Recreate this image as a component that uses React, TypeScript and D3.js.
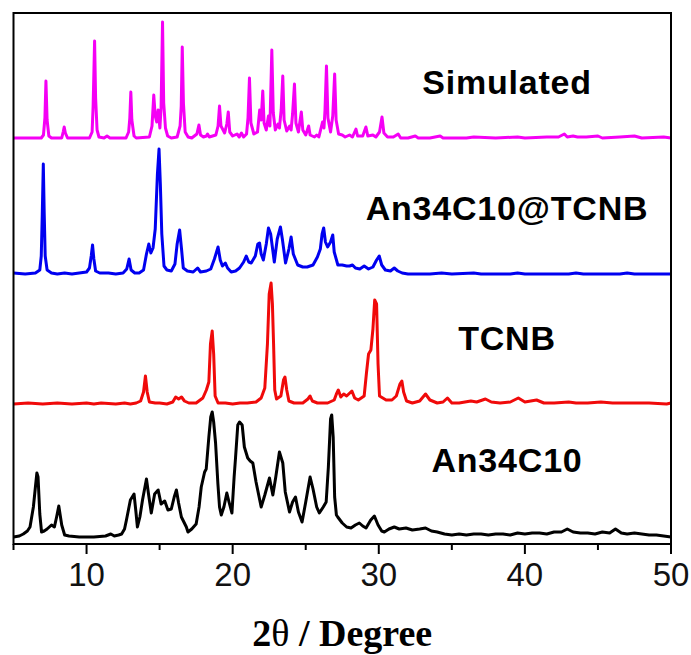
import React from "react";
import * as d3 from "d3";

// Powder XRD patterns, [2θ (deg), intensity above the pattern's own baseline (a.u.)]
const simulated: [number, number][] = [
  [5, 0], [6.9, 0], [7.05, 3], [7.15, 20], [7.22, 57], [7.3, 18], [7.42, 2], [7.6, 0],
  [8.3, 0], [8.4, 6], [8.47, 11], [8.55, 5], [8.7, 0], [10.2, 0], [10.38, 6], [10.45, 32],
  [10.55, 97], [10.62, 40], [10.72, 8], [10.85, 1], [11.2, 0], [11.4, 2], [11.6, 0],
  [12.7, 0], [12.88, 6], [12.96, 20], [13.03, 46], [13.1, 18], [13.25, 2], [13.4, 0],
  [14.3, 1], [14.48, 12], [14.6, 43], [14.7, 22], [14.8, 16], [14.9, 28], [15.02, 10],
  [15.1, 30], [15.2, 116], [15.28, 35], [15.4, 10], [15.55, 2], [15.8, 0], [16.2, 1],
  [16.4, 12], [16.48, 32], [16.55, 91], [16.63, 35], [16.75, 6], [16.95, 1], [17.2, 0],
  [17.55, 4], [17.69, 13], [17.8, 3], [18.0, 1], [18.2, 2], [18.28, 4], [18.4, 1],
  [18.85, 3], [19.0, 12], [19.1, 32], [19.2, 12], [19.45, 5], [19.6, 14], [19.7, 26],
  [19.8, 6], [20.0, 2], [20.3, 4], [20.45, 1], [20.6, 5], [20.75, 1], [20.95, 4],
  [21.05, 20], [21.15, 60], [21.25, 15], [21.45, 4], [21.7, 6], [21.85, 28], [21.95, 18],
  [22.06, 47], [22.15, 15], [22.3, 8], [22.45, 22], [22.55, 12], [22.68, 88], [22.78, 25],
  [22.92, 8], [23.1, 14], [23.2, 10], [23.32, 28], [23.43, 62], [23.52, 18], [23.7, 7],
  [23.9, 12], [24.0, 8], [24.1, 24], [24.23, 54], [24.33, 15], [24.5, 6], [24.7, 26],
  [24.8, 8], [25.0, 3], [25.2, 12], [25.3, 3], [25.6, 1], [25.75, 3], [25.9, 1],
  [26.15, 16], [26.25, 10], [26.32, 28], [26.42, 72], [26.52, 20], [26.7, 6], [26.85, 22],
  [26.98, 64], [27.08, 18], [27.25, 4], [27.5, 3], [27.7, 1], [28.0, 3], [28.2, 1],
  [28.44, 9], [28.55, 2], [28.9, 2], [29.12, 11], [29.25, 2], [29.6, 3], [29.8, 1],
  [30.05, 6], [30.22, 21], [30.35, 5], [30.6, 1], [31.0, 1], [31.33, 4], [31.5, 0],
  [32.0, 0], [32.5, 2], [32.7, 0], [33.5, 0], [34.2, 2], [34.4, 0], [36, 0], [36.5, 1],
  [38, 0], [39.5, 1], [40, 0], [41.5, 1], [42.3, 1], [42.7, 4], [42.9, 1], [43.3, 2],
  [43.6, 1], [44.2, 1], [45, 2], [45.3, 0], [46.5, 1], [47.5, 2], [48, 0], [49.5, 1], [50, 0],
];

const cocrystal: [number, number][] = [
  [5, 1], [5.8, 0], [6.5, 1], [6.8, 4], [6.9, 18], [6.97, 60], [7.04, 110], [7.1, 62],
  [7.17, 18], [7.3, 4], [7.6, 1], [8.0, 0], [8.5, 1], [9.0, 0], [9.5, 1], [10.0, 2],
  [10.2, 6], [10.32, 18], [10.41, 29], [10.5, 15], [10.62, 3], [10.9, 1], [11.5, 1],
  [12.0, 0], [12.5, 1], [12.75, 5], [12.91, 15], [13.05, 4], [13.3, 1], [13.6, 1],
  [13.9, 4], [14.1, 20], [14.26, 30], [14.4, 21], [14.55, 26], [14.7, 45], [14.85, 100],
  [14.96, 125], [15.05, 90], [15.15, 40], [15.3, 8], [15.5, 4], [15.8, 3], [16.05, 10],
  [16.2, 30], [16.37, 44], [16.5, 25], [16.62, 6], [16.9, 3], [17.3, 2], [17.6, 6],
  [17.8, 2], [18.2, 3], [18.5, 5], [18.75, 15], [19.0, 27], [19.15, 14], [19.3, 8],
  [19.5, 11], [19.65, 6], [19.9, 2], [20.2, 3], [20.47, 6], [20.75, 12], [20.93, 18],
  [21.1, 12], [21.27, 11], [21.55, 18], [21.72, 30], [21.84, 31], [21.95, 20], [22.1, 14],
  [22.3, 30], [22.45, 46], [22.6, 40], [22.85, 12], [23.05, 35], [23.27, 47], [23.4, 35],
  [23.62, 11], [23.85, 25], [24.0, 37], [24.15, 20], [24.45, 9], [24.8, 7], [25.1, 7],
  [25.5, 9], [25.8, 17], [26.0, 25], [26.12, 40], [26.23, 46], [26.35, 32], [26.5, 27],
  [26.7, 32], [26.85, 39], [26.95, 22], [27.2, 9], [27.5, 9], [27.8, 8], [28.0, 8],
  [28.2, 9], [28.4, 6], [28.7, 5], [29.0, 8], [29.3, 5], [29.6, 7], [29.85, 14],
  [30.03, 18], [30.2, 9], [30.45, 4], [30.8, 3], [31.06, 6], [31.3, 3], [31.6, 1],
  [32.0, 0], [33.5, 0], [34.3, 1], [35, 0], [36.5, 1], [37, 0], [39, 0], [39.5, 1],
  [40, 0], [43, 0], [43.5, 1], [44, 0], [46.5, 0], [47, 1], [47.5, 0], [50, 0],
];

const tcnb: [number, number][] = [
  [5, 0], [6, 1], [7, 0], [8, 1], [9, 0], [10, 1], [10.5, 0], [11, 1], [12, 0],
  [12.6, 1], [13.0, 0], [13.4, 1], [13.7, 3], [13.9, 12], [14.03, 28], [14.15, 12],
  [14.3, 2], [14.7, 1], [15.0, 1], [15.5, 0], [15.9, 2], [16.1, 7], [16.3, 5], [16.5, 7],
  [16.7, 3], [17.0, 1], [17.5, 1], [17.96, 6], [18.2, 14], [18.37, 22], [18.48, 60],
  [18.6, 73], [18.7, 50], [18.8, 8], [19.0, 1], [19.5, 1], [20.0, 0], [20.5, 1],
  [21.0, 1], [21.6, 2], [21.95, 6], [22.2, 16], [22.38, 60], [22.5, 110], [22.63, 121],
  [22.72, 100], [22.8, 60], [22.88, 14], [23.0, 5], [23.3, 8], [23.48, 24], [23.58, 27],
  [23.7, 14], [23.85, 3], [24.2, 1], [24.8, 1], [25.15, 5], [25.3, 8], [25.45, 3],
  [25.8, 1], [26.5, 1], [26.95, 4], [27.1, 10], [27.23, 14], [27.4, 7], [27.6, 10],
  [27.8, 8], [28.16, 13], [28.35, 6], [28.6, 4], [29.0, 8], [29.15, 30], [29.3, 50],
  [29.46, 54], [29.6, 75], [29.72, 104], [29.85, 100], [29.95, 40], [30.05, 8],
  [30.5, 4], [30.9, 4], [31.2, 8], [31.45, 20], [31.58, 23], [31.7, 12], [31.9, 3],
  [32.3, 1], [32.8, 3], [33.2, 10], [33.5, 4], [34.0, 1], [34.4, 2], [34.7, 6], [35.0, 1],
  [35.5, 1], [36.3, 3], [36.7, 2], [37.3, 5], [37.7, 2], [38.3, 1], [39.0, 2], [39.55, 6],
  [40.0, 2], [40.4, 3], [40.8, 4], [41.3, 1], [42, 1], [43, 2], [43.5, 1], [44.3, 1],
  [45.2, 2], [46, 1], [47, 1], [48.5, 1], [49.7, 0], [50, 1],
];

const an34c10: [number, number][] = [
  [5, 0], [5.4, 1], [5.67, 3], [5.95, 6], [6.13, 10], [6.36, 30], [6.5, 50], [6.6, 64],
  [6.68, 60], [6.8, 23], [6.92, 5], [7.1, 6], [7.3, 8], [7.6, 12], [7.8, 10], [7.95, 20],
  [8.1, 31], [8.3, 12], [8.5, 2], [8.8, 1], [9.5, 0], [10.5, 0], [11.3, 1], [11.66, 3],
  [11.9, 1], [12.2, 2], [12.4, 3], [12.6, 8], [12.73, 17], [13.0, 37], [13.25, 43],
  [13.38, 25], [13.48, 10], [13.65, 20], [13.83, 37], [14.1, 58], [14.25, 42],
  [14.43, 24], [14.66, 43], [14.9, 47], [15.1, 33], [15.35, 36], [15.57, 27], [15.8, 28],
  [16.0, 40], [16.15, 47], [16.3, 34], [16.49, 20], [16.83, 10], [16.94, 5], [17.2, 8],
  [17.5, 13], [17.7, 30], [17.85, 50], [18.08, 65], [18.19, 68], [18.37, 100],
  [18.5, 120], [18.6, 125], [18.7, 115], [18.83, 94], [18.99, 53], [19.1, 30],
  [19.22, 22], [19.4, 30], [19.6, 44], [19.75, 35], [19.95, 24], [20.1, 60], [20.2, 80],
  [20.35, 112], [20.47, 115], [20.65, 112], [20.8, 90], [21.03, 79], [21.2, 76],
  [21.38, 74], [21.6, 55], [21.95, 30], [22.2, 42], [22.52, 59], [22.75, 42], [22.95, 60],
  [23.2, 85], [23.43, 74], [23.6, 45], [23.89, 25], [24.1, 35], [24.3, 40], [24.5, 25],
  [24.75, 15], [25.0, 35], [25.3, 60], [25.5, 48], [25.75, 30], [25.93, 24], [26.2, 30],
  [26.4, 35], [26.55, 70], [26.7, 118], [26.78, 122], [26.88, 100], [26.98, 40],
  [27.1, 22], [27.19, 20], [27.5, 14], [27.8, 10], [28.1, 9], [28.4, 12], [28.67, 14],
  [28.9, 11], [29.13, 9], [29.45, 17], [29.7, 21], [29.95, 12], [30.2, 6], [30.38, 5],
  [30.7, 8], [31.06, 10], [31.4, 8], [31.86, 9], [32.3, 7], [32.8, 8], [33.2, 9],
  [33.6, 6], [34.0, 5], [34.5, 3], [35.0, 2], [35.5, 3], [36.0, 2], [36.5, 3], [37.0, 3],
  [37.5, 2], [38.0, 3], [38.5, 3], [39.0, 2], [39.5, 4], [40.0, 3], [40.5, 4], [41.0, 4],
  [41.5, 3], [42.0, 5], [42.5, 5], [42.9, 8], [43.3, 5], [43.8, 4], [44.3, 4], [44.8, 3],
  [45.3, 5], [45.8, 4], [46.2, 8], [46.6, 4], [47.0, 3], [47.5, 4], [48.0, 3], [48.5, 2],
  [49.0, 2], [49.5, 1], [50, 0],
];

// Vertical offsets used to stack the patterns
const seriesNames = ["Simulated", "An34C10@TCNB", "TCNB", "An34C10"];
const seriesData = [simulated, cocrystal, tcnb, an34c10];
const seriesOffsets = [406, 270, 140, 7];
const seriesColors = ["#f500f5", "#0000f0", "#f00a0a", "#000000"];
const labelLevels = [94, 220, 350, 472];

const majorTicks = [10, 20, 30, 40, 50];
const minorTicks = [5, 15, 25, 35, 45];

const W = 691;
const H = 655;
const left = 13.5;
const right = 671;
const top = 13;
const bottom = 544;

export default function App() {
  const x = d3.scaleLinear().domain([5, 50]).range([left, right]);
  const y = d3.scaleLinear().domain([0, bottom - top]).range([bottom, top]);

  return (
    <svg
      width={W}
      height={H}
      style={{ position: "absolute", left: 0, top: 0, background: "#fff" }}
    >
      <rect x={0} y={0} width={W} height={H} fill="#fff" />
      {seriesData.map((pts, i) => {
        const line = d3
          .line<[number, number]>()
          .x((d) => x(d[0]))
          .y((d) => y(d[1] + seriesOffsets[i]));
        return (
          <path
            key={seriesNames[i]}
            d={line(pts) ?? ""}
            fill="none"
            stroke={seriesColors[i]}
            strokeWidth={3}
            strokeLinejoin="round"
          />
        );
      })}

      {/* frame */}
      <rect
        x={left}
        y={top}
        width={right - left}
        height={bottom - top}
        fill="none"
        stroke="#000"
        strokeWidth={2}
      />

      {/* bottom axis ticks */}
      {majorTicks.map((t) => (
        <g key={"M" + t}>
          <line x1={x(t)} x2={x(t)} y1={bottom} y2={bottom + 10} stroke="#000" strokeWidth={2} />
          <text
            x={x(t)}
            y={585.5}
            textAnchor="middle"
            fontFamily="'Liberation Sans', Arial, sans-serif"
            fontSize={33}
            fill="#111"
          >
            {t}
          </text>
        </g>
      ))}
      {minorTicks.map((t) => (
        <line key={"m" + t} x1={x(t)} x2={x(t)} y1={bottom} y2={bottom + 6} stroke="#000" strokeWidth={2} />
      ))}

      {/* axis title */}
      <text
        x={(left + right) / 2}
        y={646}
        textAnchor="middle"
        fontFamily="'Liberation Serif', 'Times New Roman', serif"
        fontSize={38}
        fill="#000"
      >
        <tspan fontWeight="bold">2</tspan>
        <tspan>θ</tspan>
        <tspan fontWeight="bold"> / Degree</tspan>
      </text>

      {/* pattern labels */}
      {seriesNames.map((name, i) => (
        <text
          key={"l" + name}
          x={507}
          y={labelLevels[i]}
          textAnchor="middle"
          fontFamily="'Liberation Sans', Arial, sans-serif"
          fontWeight="bold"
          fontSize={34}
          letterSpacing={0.8}
          fill="#000"
        >
          {name}
        </text>
      ))}
    </svg>
  );
}
